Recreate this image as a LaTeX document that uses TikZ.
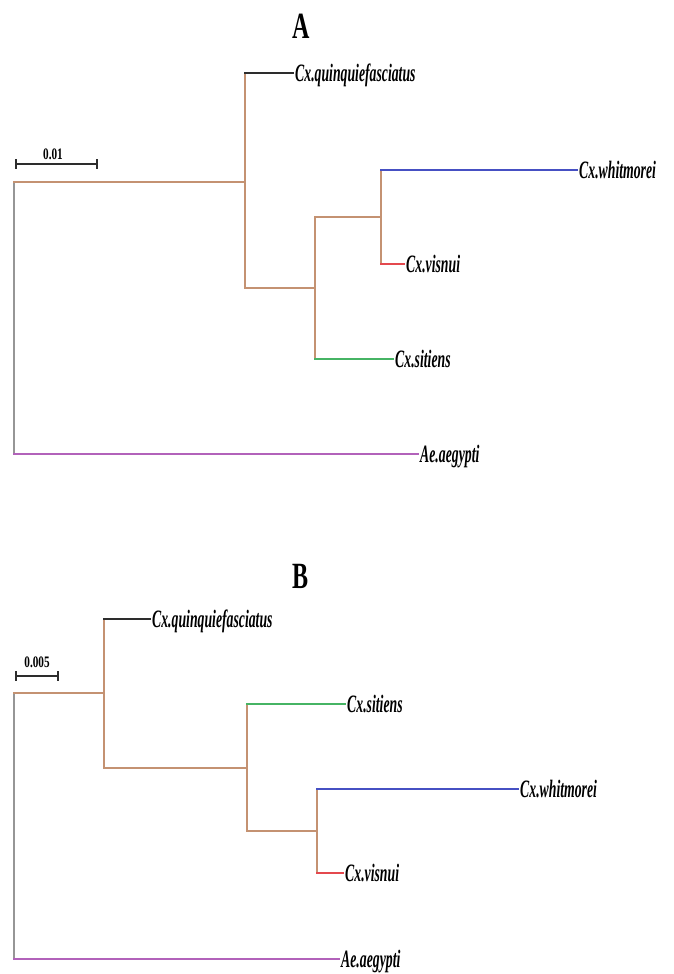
\documentclass[tikz,border=0pt]{standalone}
\usepackage{fontspec}
\setmainfont{Liberation Serif}
\newfontfamily\taxfont[FakeStretch=0.55]{Liberation Serif}
\newfontfamily\barfont[FakeStretch=0.7]{Liberation Serif}
\newfontfamily\headfont[FakeStretch=0.65]{Liberation Serif}
\usetikzlibrary{arrows}
\definecolor{cladebrown}{RGB}{196,146,114}
\definecolor{tipblack}{RGB}{45,45,45}
\definecolor{tipblue}{RGB}{70,80,195}
\definecolor{tipred}{RGB}{228,72,78}
\definecolor{tipgreen}{RGB}{70,180,100}
\definecolor{tippurple}{RGB}{178,98,186}
\definecolor{rootgray}{RGB}{150,150,150}
\tikzstyle{taxon}=[anchor=west,inner sep=2pt,text height=20pt,text depth=3.5pt,font=\taxfont\bfseries\itshape\fontsize{25}{25}\selectfont]
\tikzstyle{panel}=[font=\headfont\bfseries\fontsize{37}{37}\selectfont]
\tikzstyle{barlabel}=[font=\barfont\bfseries\fontsize{16}{16}\selectfont]
\tikzstyle{edge}=[draw,line width=1.9pt,line cap=rect]
\tikzstyle{scalebar}=[draw,line width=1.6pt,|-|,tipblack]

\begin{document}
\begin{tikzpicture}[x=1pt,y=-1pt]
    \useasboundingbox (0,0) rectangle (673,974);
    % Tree A
    \node[panel] (titleA) at (301,26) {A};
    % First we place the inner nodes and the taxa
    \coordinate (rA) at (14,318);
    \coordinate (nA1) at (245,182);
    \coordinate (nA2) at (315,288);
    \coordinate (nA3) at (381,217);
    \foreach \pos/\name/\txt in {{(293,73)/quinA/Cx.quinquiefasciatus}, {(577,170)/whitA/Cx.whitmorei}, {(404,264)/visA/Cx.visnui}, {(393,359)/sitA/Cx.sitiens}, {(418,454)/aegA/Ae.aegypti}}
        \node[taxon] (\name) at \pos {\txt};
    % Vertical lines of the nodes
    \path[edge,rootgray] (rA |- nA1) -- (rA |- aegA);
    \foreach \inner/\upper/\lower in {nA1/quinA/nA2, nA2/nA3/sitA, nA3/whitA/visA}
        \path[edge,cladebrown] (\inner |- \upper) -- (\inner |- \lower);
    % Horizontal branches
    \foreach \source/\dest/\col in {rA/nA1/cladebrown, rA/aegA/tippurple, nA1/quinA/tipblack, nA1/nA2/cladebrown, nA2/nA3/cladebrown, nA2/sitA/tipgreen, nA3/whitA/tipblue, nA3/visA/tipred}
        \path[edge,\col] (\source |- \dest) -- (\dest);
    % Scale bar
    \coordinate (sbA1) at (15,164);
    \coordinate (sbA2) at (98,164);
    \path[scalebar] (sbA1) -- (sbA2);
    \node[barlabel] (sbAtxt) at (53,154) {0.01};

    % Tree B
    \node[panel] (titleB) at (301,576) {B};
    \coordinate (rB) at (14,826);
    \coordinate (nB1) at (104,693);
    \coordinate (nB2) at (247,768);
    \coordinate (nB3) at (317,831);
    \foreach \pos/\name/\txt in {{(150,619)/quinB/Cx.quinquiefasciatus}, {(345,704)/sitB/Cx.sitiens}, {(518,789)/whitB/Cx.whitmorei}, {(343,873)/visB/Cx.visnui}, {(339,959)/aegB/Ae.aegypti}}
        \node[taxon] (\name) at \pos {\txt};
    % Vertical lines of the nodes
    \path[edge,rootgray] (rB |- nB1) -- (rB |- aegB);
    \foreach \inner/\upper/\lower in {nB1/quinB/nB2, nB2/sitB/nB3, nB3/whitB/visB}
        \path[edge,cladebrown] (\inner |- \upper) -- (\inner |- \lower);
    % Horizontal branches
    \foreach \source/\dest/\col in {rB/nB1/cladebrown, rB/aegB/tippurple, nB1/quinB/tipblack, nB1/nB2/cladebrown, nB2/sitB/tipgreen, nB2/nB3/cladebrown, nB3/whitB/tipblue, nB3/visB/tipred}
        \path[edge,\col] (\source |- \dest) -- (\dest);
    % Scale bar
    \coordinate (sbB1) at (15,676);
    \coordinate (sbB2) at (59,676);
    \path[scalebar] (sbB1) -- (sbB2);
    \node[barlabel] (sbBtxt) at (37,662) {0.005};
\end{tikzpicture}
\end{document}
